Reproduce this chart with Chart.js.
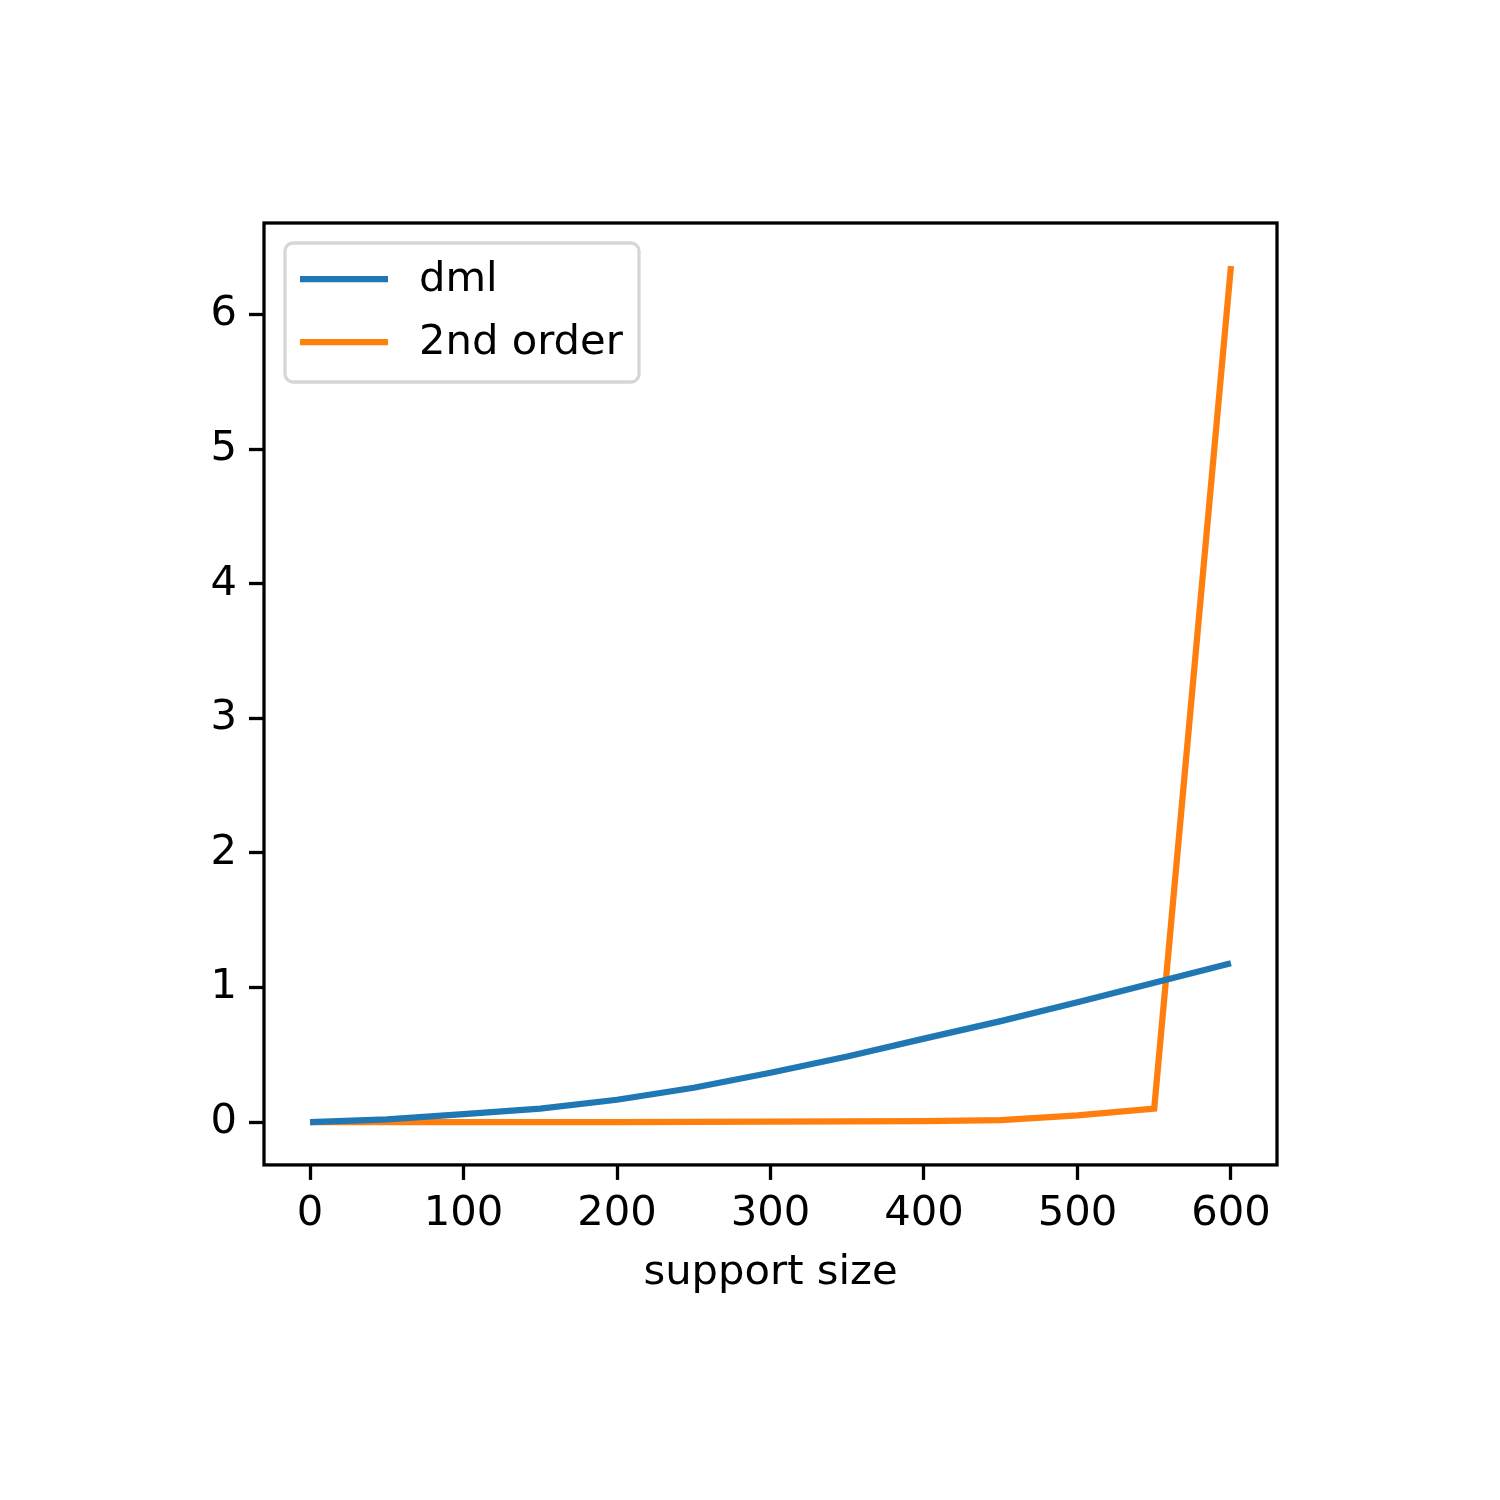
<!DOCTYPE html>
<html>
<head>
  <title>support size</title>
  <script src="https://cdn.jsdelivr.net/npm/chart.js"></script>
  <style>
    body { margin: 0; background: #fff; }
    #wrap { width: 1500px; height: 1500px; }
  </style>
</head>
<body>
  <div id="wrap"><canvas id="chart" width="1500" height="1500"></canvas></div>

  <script>
    // data
    const supportSize = [0, 50, 100, 150, 200, 250, 300, 350, 400, 450, 500, 550, 600];
    const dml = [0.0, 0.02, 0.06, 0.10, 0.166, 0.255, 0.367, 0.488, 0.62, 0.75, 0.89, 1.036, 1.18];
    const secondOrder = [0.0, 0.0, 0.0, 0.0, 0.0, 0.002, 0.003, 0.005, 0.008, 0.015, 0.05, 0.10, 6.36];
    const xTicks = [0, 100, 200, 300, 400, 500, 600];
    const yTicks = [0, 1, 2, 3, 4, 5, 6];

    const FONT = "'DejaVu Sans', sans-serif";
    const FS = 41.7;

    const toPoints = (xs, ys) => xs.map((x, i) => ({ x: x, y: ys[i] }));

    // frame + legend inside the axes
    const framePlugin = {
      id: 'frame',
      afterDraw(chart) {
        const ctx = chart.ctx;
        const a = chart.chartArea;
        ctx.save();
        ctx.strokeStyle = '#000';
        ctx.lineWidth = 3.3;
        ctx.strokeRect(a.left, a.top, a.right - a.left, a.bottom - a.top);

        // legend box
        const bx = a.left + 21, by = a.top + 20, bw = 354, bh = 139;
        ctx.beginPath();
        ctx.roundRect(bx, by, bw, bh, 8);
        ctx.fillStyle = 'rgba(255,255,255,0.8)';
        ctx.fill();
        ctx.strokeStyle = '#d6d6d6';
        ctx.lineWidth = 3.3;
        ctx.stroke();

        const items = [['dml', '#1f77b4'], ['2nd order', '#ff7f0e']];
        ctx.font = FS + 'px ' + FONT;
        ctx.textBaseline = 'middle';
        ctx.textAlign = 'left';
        items.forEach((it, i) => {
          const y = by + 36 + i * 63;
          ctx.strokeStyle = it[1];
          ctx.lineWidth = 6.25;
          ctx.beginPath();
          ctx.moveTo(bx + 15, y);
          ctx.lineTo(bx + 103, y);
          ctx.stroke();
          ctx.fillStyle = '#000';
          ctx.fillText(it[0], bx + 134, y + 1);
        });
        ctx.restore();
      }
    };

    new Chart(document.getElementById('chart'), {
      type: 'line',
      data: {
        datasets: [
          {
            label: 'dml',
            data: toPoints(supportSize, dml),
            borderColor: '#1f77b4',
            borderWidth: 6.25,
            pointRadius: 0,
            tension: 0
          },
          {
            label: '2nd order',
            data: toPoints(supportSize, secondOrder),
            borderColor: '#ff7f0e',
            borderWidth: 6.25,
            pointRadius: 0,
            tension: 0
          }
        ]
      },
      options: {
        responsive: false,
        animation: false,
        events: [],
        layout: { padding: { left: 0, right: 223, top: 223, bottom: 202 } },
        plugins: {
          legend: { display: false },
          tooltip: { enabled: false }
        },
        scales: {
          x: {
            type: 'linear',
            min: -30,
            max: 630,
            afterBuildTicks: s => { s.ticks = xTicks.map(v => ({ value: v })); },
            grid: { drawOnChartArea: false, tickLength: 15, tickWidth: 3.3, tickColor: '#000' },
            border: { display: false },
            ticks: { color: '#000', font: { family: FONT, size: FS }, padding: 9, maxRotation: 0 },
            title: { display: true, text: 'support size', color: '#000', font: { family: FONT, size: FS }, padding: { top: 0, bottom: 0 } }
          },
          y: {
            type: 'linear',
            min: -0.318,
            max: 6.68,
            afterBuildTicks: s => { s.ticks = yTicks.map(v => ({ value: v })); },
            afterFit: s => { s.width = 264; },
            grid: { drawOnChartArea: false, tickLength: 15, tickWidth: 3.3, tickColor: '#000' },
            border: { display: false },
            ticks: { color: '#000', font: { family: FONT, size: FS }, padding: 12 }
          }
        }
      },
      plugins: [framePlugin]
    });
  </script>
</body>
</html>
